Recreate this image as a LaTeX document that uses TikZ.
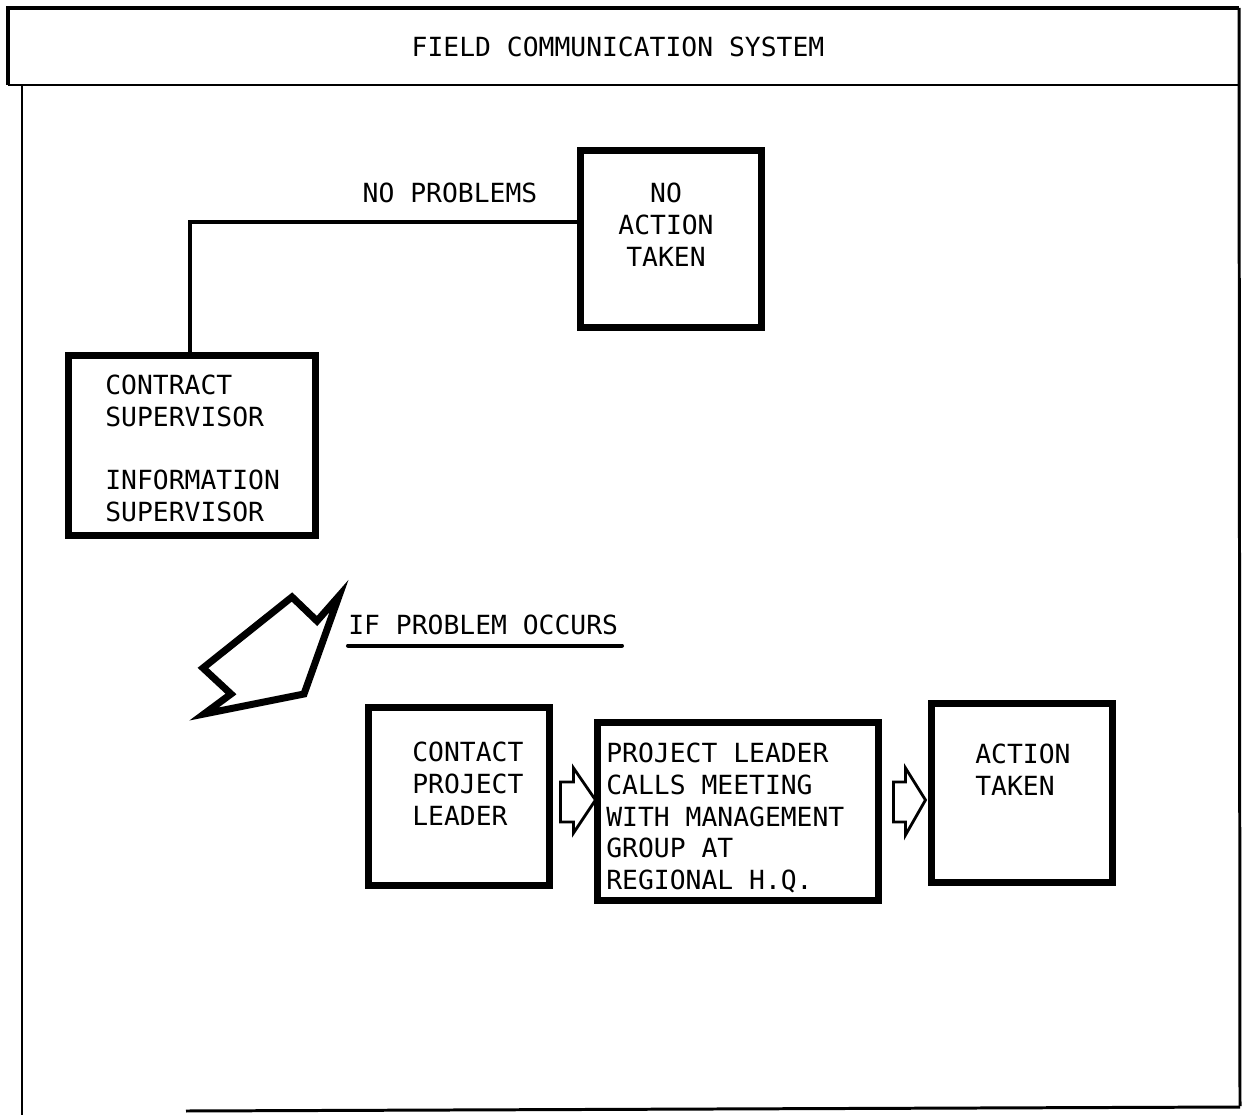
\documentclass[tikz,border=0pt]{standalone}
\usepackage{fontspec}
\setmonofont{DejaVu Sans Mono}
\usetikzlibrary{calc}
\tikzset{
  lbl/.style={inner sep=0pt, font=\ttfamily\fontsize{15}{18}\selectfont},
  box/.style={draw, line width=4pt, inner sep=0pt},
  frame/.style={line width=1.7pt},
  conn/.style={line width=2.8pt},
  hollow/.style={line width=1.6pt, line join=miter}
}
\begin{document}
\begin{tikzpicture}[x=0.02cm, y=-0.02cm]
\useasboundingbox (0,0) rectangle (1245,1115);

% Frame
\draw[frame, line width=2.2pt] (8,85) -- (8,8) -- (1239,8);
\draw[frame] (8,85) -- (1240,85);
\draw[frame] (1239,8) -- (1240,1106);
\draw[frame] (22,85) -- (22,1115);
\draw[frame] (186,1111) -- (1240,1107);
\node[lbl] (title) at (618,47) {FIELD COMMUNICATION SYSTEM};

% Upper part
\node[box, minimum width=3.62cm, minimum height=3.54cm] (noact) at (671,239) {};
\node[lbl, anchor=north, align=center] at (666,183) {NO\\ACTION\\TAKEN};
\node[box, minimum width=4.94cm, minimum height=3.6cm] (sup) at (192,445.5) {};
\node[lbl, anchor=north west, align=left] at (105,375)
  {CONTRACT\\SUPERVISOR\\[18pt]INFORMATION\\SUPERVISOR};
\coordinate (bend) at (190,222);
\draw[conn] (sup.north -| bend) -- (bend) -- (noact.west |- bend);
\node[lbl] (noprob) at (450,193) {NO PROBLEMS};

% Big arrow
\draw[line width=4pt, line join=miter, miter limit=20]
  (292,597) -- (317,621) -- (339,596) -- (304,694) -- (204,714)
  -- (231,694) -- (203,668) -- cycle;
\node[lbl, anchor=north west] (ifprob) at (348,615) {IF PROBLEM OCCURS};
\draw[line width=2.3pt, line cap=round] (ifprob.south west) ++(0,10) -- ++(274,0);

% Lower part
\node[box, minimum width=3.62cm, minimum height=3.56cm] (contact) at (459,796.5) {};
\node[lbl, anchor=north west, align=left] at (412,742) {CONTACT\\PROJECT\\LEADER};
\node[box, minimum width=5.62cm, minimum height=3.56cm] (meeting) at (738,811.5) {};
\node[lbl, anchor=north west, align=left] at (606,743)
  {PROJECT LEADER\\CALLS MEETING\\WITH MANAGEMENT\\GROUP AT\\REGIONAL H.Q.};
\node[box, minimum width=3.62cm, minimum height=3.58cm] (action) at (1022,793) {};
\node[lbl, anchor=north west, align=left] at (975,744) {ACTION\\TAKEN};

% Hollow arrows
\draw[hollow] (contact.east) ++(7.5,-14.5) -- ++(13,0) -- ++(0,-14) -- ++(22,32)
  -- ++(-22,33) -- ++(0,-11) -- ++(-13,0) -- cycle;
\draw[hollow] (meeting.east) ++(11.5,-29.5) -- ++(12,0) -- ++(0,-14) -- ++(20,32)
  -- ++(-20,35) -- ++(0,-13) -- ++(-12,0) -- cycle;

\end{tikzpicture}
\end{document}
